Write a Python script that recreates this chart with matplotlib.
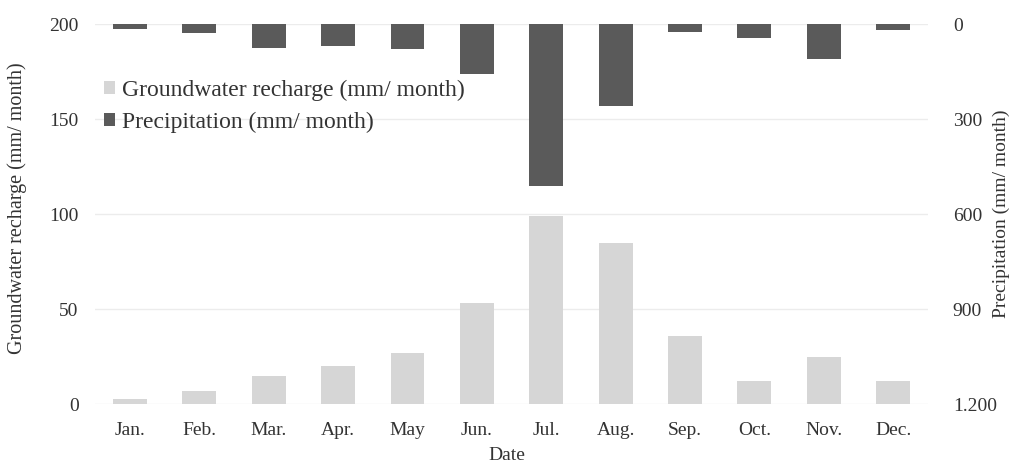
import matplotlib
matplotlib.use("Agg")
import matplotlib.pyplot as plt
from matplotlib.patches import Patch
import numpy as np

months = ["Jan.", "Feb.", "Mar.", "Apr.", "May", "Jun.", "Jul.", "Aug.", "Sep.", "Oct.", "Nov.", "Dec."]
recharge = [2.8, 7, 15, 20, 27, 53, 99, 85, 36, 12, 25, 12]
precip = [16, 28, 76, 70, 79, 159, 511, 259, 25, 45, 109, 19]
left_ticks = [0, 50, 100, 150, 200]
right_ticks = [0, 300, 600, 900, 1200]
right_labels = ["0", "300", "600", "900", "1.200"]

plt.rcParams['font.family'] = ['Liberation Serif', 'DejaVu Serif']

W, H = 1014, 462
fig = plt.figure(figsize=(W / 100, H / 100), dpi=100)
ax = fig.add_axes([0.094, 0.125, 0.821, 0.823])
ax2 = ax.twinx()

x = np.arange(len(months))
light = "#d6d6d6"
dark = "#5a5a5a"
txt = "#333333"

ax.bar(x, recharge, width=0.49, color=light, zorder=2)
ax2.bar(x, precip, width=0.49, color=dark, zorder=2)

ax.set_ylim(0, 200)
ax2.set_ylim(1200, 0)
ax.set_xlim(-0.5, len(months) - 0.5)

ax.set_yticks(left_ticks)
ax.set_yticklabels([str(t) for t in left_ticks], fontsize=14, color=txt)
ax2.set_yticks(right_ticks)
ax2.set_yticklabels(right_labels, fontsize=14, color=txt)
ax.set_xticks(x)
ax.set_xticklabels(months, fontsize=14, color=txt)

for a in (ax, ax2):
    for s in a.spines.values():
        s.set_visible(False)
    a.tick_params(length=0)
ax.tick_params(axis='y', pad=12)
ax2.tick_params(axis='y', pad=18)
ax.tick_params(axis='x', pad=13)

ax.yaxis.grid(True, color="#ececec", linewidth=1.0, zorder=0)
ax.set_axisbelow(True)

ax.set_ylabel("Groundwater recharge (mm/ month)", fontsize=14.5, color=txt)
ax.yaxis.set_label_coords(17 / W, 1 - 208 / H, transform=fig.transFigure)
ax2.set_ylabel("Precipitation (mm/ month)", fontsize=14, color=txt, rotation=90)
ax2.yaxis.set_label_coords(1001 / W, 1 - 214 / H, transform=fig.transFigure)
ax.set_xlabel("Date", fontsize=14, color=txt)
ax.xaxis.set_label_coords(0.5, 1 - 455 / H, transform=fig.transFigure)
ax.xaxis.label.set_va('center')
ax.yaxis.label.set_va('center')
ax2.yaxis.label.set_va('center')

handles = [Patch(facecolor=light, edgecolor='none', label="Groundwater recharge (mm/ month)"),
           Patch(facecolor=dark, edgecolor='none', label="Precipitation (mm/ month)")]
leg = fig.legend(handles=handles, loc='upper left',
                 bbox_to_anchor=(104 / W, 1 - 80 / H),
                 frameon=False, fontsize=17, handlelength=0.45, handleheight=0.45,
                 handletextpad=0.3, labelspacing=0.45, borderaxespad=0.0, borderpad=0.0)
for t in leg.get_texts():
    t.set_color(txt)

fig.savefig("out.png", dpi=100)
